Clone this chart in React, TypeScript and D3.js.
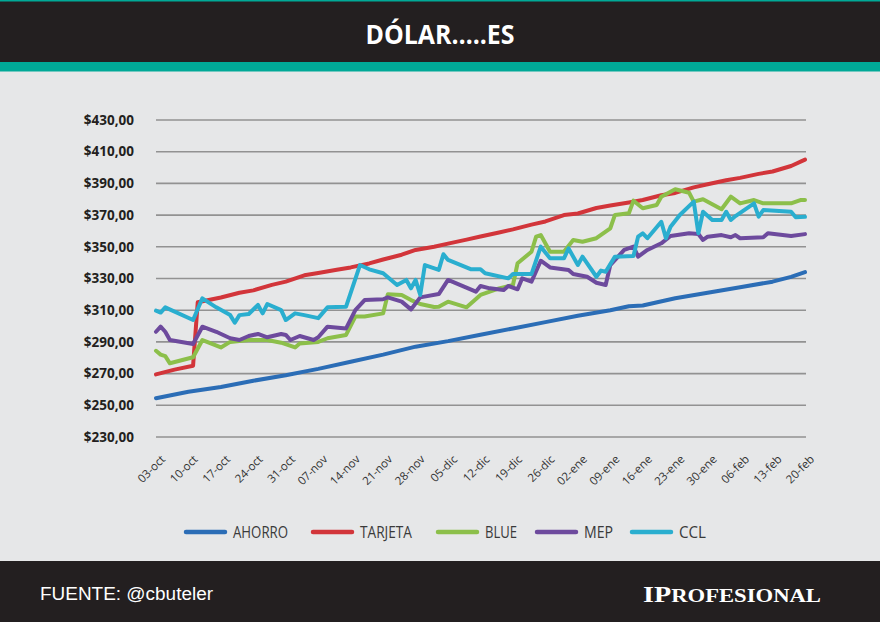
import React from 'react';
import * as d3 from 'd3';

// datos (pesos por dolar)
const ahorro: [string, number][] = [
  ['2022-10-03', 254.5], ['2022-10-10', 258.5], ['2022-10-17', 261.5], ['2022-10-24', 265.5],
  ['2022-10-31', 269], ['2022-11-07', 273], ['2022-11-14', 277.5], ['2022-11-21', 282],
  ['2022-11-28', 287], ['2022-12-05', 290.5], ['2022-12-12', 294.5], ['2022-12-19', 298.5],
  ['2022-12-26', 302.5], ['2023-01-02', 306.5], ['2023-01-09', 310], ['2023-01-13', 312.5],
  ['2023-01-16', 313], ['2023-01-23', 317.5], ['2023-01-30', 321], ['2023-02-06', 324.5],
  ['2023-02-13', 328], ['2023-02-17', 331], ['2023-02-20', 334],
];

const tarjeta: [string, number][] = [
  ['2022-10-03', 269.5], ['2022-10-07', 272.5], ['2022-10-11', 275], ['2022-10-12', 315],
  ['2022-10-17', 318], ['2022-10-21', 321], ['2022-10-24', 322.5], ['2022-10-28', 326],
  ['2022-10-31', 328], ['2022-11-04', 332], ['2022-11-07', 333.5], ['2022-11-11', 335.5],
  ['2022-11-14', 337], ['2022-11-18', 339.5], ['2022-11-21', 342], ['2022-11-25', 345],
  ['2022-11-28', 348], ['2022-12-02', 350], ['2022-12-05', 352], ['2022-12-09', 354.5],
  ['2022-12-12', 356.5], ['2022-12-16', 359], ['2022-12-19', 361], ['2022-12-23', 364],
  ['2022-12-26', 366], ['2022-12-30', 370], ['2023-01-02', 371], ['2023-01-06', 374.5],
  ['2023-01-09', 376], ['2023-01-13', 378], ['2023-01-16', 379.5], ['2023-01-20', 382.5],
  ['2023-01-23', 384], ['2023-01-27', 387.5], ['2023-01-30', 389.5], ['2023-02-03', 392],
  ['2023-02-06', 393.5], ['2023-02-10', 396], ['2023-02-13', 397.5], ['2023-02-17', 401],
  ['2023-02-20', 405],
];

const blue: [string, number][] = [
  ['2022-10-03', 284.4], ['2022-10-04', 282], ['2022-10-05', 281], ['2022-10-06', 276.5],
  ['2022-10-11', 280.3], ['2022-10-13', 291.2], ['2022-10-14', 290], ['2022-10-17', 286.5],
  ['2022-10-19', 290], ['2022-10-23', 291.2], ['2022-10-27', 291.2], ['2022-10-30', 289.5],
  ['2022-11-02', 286.5], ['2022-11-03', 289], ['2022-11-07', 290], ['2022-11-09', 292.3],
  ['2022-11-13', 294.4], ['2022-11-15', 306], ['2022-11-17', 306], ['2022-11-21', 308],
  ['2022-11-22', 320], ['2022-11-25', 319.6], ['2022-11-27', 316.4], ['2022-11-29', 313.9],
  ['2022-12-02', 312], ['2022-12-03', 312.2], ['2022-12-05', 315.4], ['2022-12-09', 311.8],
  ['2022-12-12', 319.6], ['2022-12-16', 323.8], ['2022-12-19', 325.9], ['2022-12-20', 339.6],
  ['2022-12-23', 346.9], ['2022-12-24', 356.4], ['2022-12-25', 357.4], ['2022-12-27', 346.9],
  ['2022-12-30', 346.9], ['2023-01-01', 354.3], ['2023-01-03', 353.2], ['2023-01-06', 355.4],
  ['2023-01-09', 361.7], ['2023-01-10', 370.1], ['2023-01-13', 371.1], ['2023-01-14', 379.1],
  ['2023-01-16', 374.3], ['2023-01-19', 376.4], ['2023-01-20', 381.6], ['2023-01-23', 386.3],
  ['2023-01-26', 384.1], ['2023-01-27', 378.5], ['2023-01-29', 380], ['2023-02-02', 373.7],
  ['2023-02-04', 381.6], ['2023-02-06', 377.4], ['2023-02-09', 379.5], ['2023-02-11', 377.4],
  ['2023-02-17', 377.4], ['2023-02-19', 379.5], ['2023-02-20', 379.5],
];

const mep: [string, number][] = [
  ['2022-10-03', 296.4], ['2022-10-04', 299.6], ['2022-10-05', 296.4], ['2022-10-06', 291.2],
  ['2022-10-11', 288.7], ['2022-10-13', 299.6], ['2022-10-16', 296.4], ['2022-10-19', 292.3],
  ['2022-10-21', 291.2], ['2022-10-23', 293.7], ['2022-10-25', 295], ['2022-10-27', 292.9],
  ['2022-10-30', 295], ['2022-10-31', 294.4], ['2022-11-01', 291.2], ['2022-11-03', 293.7],
  ['2022-11-06', 291.2], ['2022-11-07', 292.9], ['2022-11-09', 299.6], ['2022-11-13', 298.5],
  ['2022-11-15', 310], ['2022-11-17', 316.4], ['2022-11-21', 316.9], ['2022-11-22', 318.1],
  ['2022-11-25', 315.4], ['2022-11-27', 310.5], ['2022-11-29', 318.1], ['2022-12-03', 320.2],
  ['2022-12-05', 329.1], ['2022-12-11', 321.7], ['2022-12-12', 325.3], ['2022-12-14', 323.8],
  ['2022-12-17', 322.7], ['2022-12-18', 325.3], ['2022-12-20', 323.2], ['2022-12-21', 330.1],
  ['2022-12-23', 328], ['2022-12-25', 341.2], ['2022-12-27', 337], ['2022-12-31', 335.4],
  ['2023-01-01', 332.8], ['2023-01-04', 331.1], ['2023-01-06', 327.3], ['2023-01-08', 325.9],
  ['2023-01-09', 338.5], ['2023-01-12', 348], ['2023-01-14', 350.1], ['2023-01-15', 343.8],
  ['2023-01-17', 348], ['2023-01-20', 352.2], ['2023-01-22', 356.8], ['2023-01-26', 358.5],
  ['2023-01-28', 358.1], ['2023-01-29', 354.3], ['2023-01-30', 356.4], ['2023-02-02', 357.4],
  ['2023-02-04', 356], ['2023-02-05', 357.4], ['2023-02-06', 355.4], ['2023-02-11', 356],
  ['2023-02-12', 358.5], ['2023-02-17', 356.8], ['2023-02-20', 358],
];

const ccl: [string, number][] = [
  ['2022-10-03', 309.7], ['2022-10-04', 308.5], ['2022-10-05', 311.8], ['2022-10-11', 303.8],
  ['2022-10-13', 317.5], ['2022-10-16', 311.8], ['2022-10-19', 306.9], ['2022-10-20', 302.1],
  ['2022-10-21', 306.9], ['2022-10-23', 307.6], ['2022-10-25', 313.3], ['2022-10-26', 308],
  ['2022-10-27', 313.9], ['2022-10-30', 310], ['2022-10-31', 303.8], ['2022-11-02', 308],
  ['2022-11-04', 306.9], ['2022-11-07', 305], ['2022-11-09', 311.8], ['2022-11-13', 312.2],
  ['2022-11-16', 338.5], ['2022-11-18', 335.8], ['2022-11-21', 333.3], ['2022-11-24', 325.9],
  ['2022-11-26', 329.1], ['2022-11-27', 323.8], ['2022-11-28', 329.1], ['2022-11-29', 319.6],
  ['2022-11-30', 338.5], ['2022-12-03', 335.4], ['2022-12-04', 345.3], ['2022-12-05', 341.7],
  ['2022-12-10', 335.8], ['2022-12-12', 335.8], ['2022-12-13', 333.3], ['2022-12-18', 330.1],
  ['2022-12-19', 332.8], ['2022-12-23', 332.8], ['2022-12-25', 350.1], ['2022-12-27', 342.7],
  ['2022-12-30', 342.7], ['2022-12-31', 349], ['2023-01-02', 338.5], ['2023-01-03', 343.8],
  ['2023-01-06', 331.1], ['2023-01-07', 335], ['2023-01-08', 334.3], ['2023-01-10', 343.8],
  ['2023-01-14', 344.2], ['2023-01-15', 356.4], ['2023-01-16', 358.5], ['2023-01-17', 355.4],
  ['2023-01-20', 365.8], ['2023-01-21', 355.4], ['2023-01-22', 362.7], ['2023-01-24', 370.1],
  ['2023-01-27', 378.5], ['2023-01-28', 358.5], ['2023-01-29', 372.1], ['2023-01-31', 366.9],
  ['2023-02-02', 366.9], ['2023-02-03', 372.1], ['2023-02-04', 366.9], ['2023-02-05', 369.4],
  ['2023-02-09', 377.4], ['2023-02-10', 369], ['2023-02-11', 373.2], ['2023-02-17', 372.1],
  ['2023-02-18', 368.6], ['2023-02-20', 368.9],
];

const xLabels = ['03-oct', '10-oct', '17-oct', '24-oct', '31-oct', '07-nov', '14-nov', '21-nov',
  '28-nov', '05-dic', '12-dic', '19-dic', '26-dic', '02-ene', '09-ene', '16-ene', '23-ene',
  '30-ene', '06-feb', '13-feb', '20-feb'];
const yTicks = [230, 250, 270, 290, 310, 330, 350, 370, 390, 410, 430];

const seriesNames = ['AHORRO', 'TARJETA', 'BLUE', 'MEP', 'CCL'];
const seriesColors = ['#2b6db6', '#d2353a', '#8cbf4a', '#6d4a9d', '#2aaecf'];
const seriesData = [ahorro, tarjeta, blue, mep, ccl];

const W = 880;
const H = 622;
const parse = d3.timeParse('%Y-%m-%d');

export default function App() {
  const start = parse('2022-10-03')!;
  const end = parse('2023-02-20')!;
  const x = d3.scaleTime().domain([start, end]).range([156, 805]);
  const y = d3.scaleLinear().domain([230, 430]).range([437, 120]);

  const line = d3.line<[string, number]>()
    .x(d => x(parse(d[0])!))
    .y(d => y(d[1]));

  // leyenda: posicion x de cada linea
  const legendX = [186, 313, 438, 537, 632];
  const legendTextW = [55, 52, 32, 29, 27];

  return (
    <svg width={W} height={H} style={{position: 'absolute', left: 0, top: 0}}>
      <rect x={0} y={0} width={W} height={H} fill="#e6e7e8"/>
      {/* cabecera */}
      <rect x={0} y={0} width={W} height={62} fill="#231f20"/>
      <rect x={0} y={0} width={W} height={1.5} fill="#00a997"/>
      <rect x={0} y={62} width={W} height={9.5} fill="#00a997"/>
      <text x={440} y={43.5} textAnchor="middle" fill="#fff" fontFamily="'Open Sans', sans-serif"
            fontWeight={700} fontSize={26} textLength={149} lengthAdjust="spacingAndGlyphs">
        DÓLAR…..ES
      </text>

      {/* grilla y eje y */}
      {yTicks.map(v => (
        <g key={v}>
          <line x1={156} x2={806} y1={y(v)} y2={y(v)} stroke="#929292" strokeWidth={1.6}/>
          <text x={134} y={y(v)} dy="0.35em" textAnchor="end" fill="#231f20"
                fontFamily="'Open Sans', sans-serif" fontWeight={700} fontSize={13.5}>
            {`$${v},00`}
          </text>
        </g>
      ))}

      {/* eje x */}
      {xLabels.map((lab, i) => {
        const px = x(d3.timeDay.offset(start, i * 7));
        return (
          <text key={lab} transform={`translate(${px + 10},460) rotate(-45)`} textAnchor="end"
                fill="#333" fontFamily="'Open Sans', sans-serif" fontSize={11.5}>
            {lab}
          </text>
        );
      })}

      {/* series */}
      {seriesData.map((s, i) => (
        <path key={seriesNames[i]} d={line(s)!} fill="none" stroke={seriesColors[i]}
              strokeWidth={4} strokeLinejoin="round" strokeLinecap="round"/>
      ))}

      {/* leyenda */}
      {seriesNames.map((name, i) => (
        <g key={name}>
          <line x1={legendX[i]} x2={legendX[i] + 39} y1={532} y2={532} stroke={seriesColors[i]}
                strokeWidth={4.5} strokeLinecap="round"/>
          <text x={legendX[i] + 47} y={532} dy="0.36em" fill="#3a3a3a"
                fontFamily="'Open Sans', sans-serif" fontSize={16.5}
                textLength={legendTextW[i]} lengthAdjust="spacingAndGlyphs">
            {name}
          </text>
        </g>
      ))}

      {/* pie */}
      <rect x={0} y={561} width={W} height={H - 561} fill="#231f20"/>
      <text x={40} y={600} fill="#fff" fontFamily="'Liberation Sans', Arial, sans-serif" fontSize={18}
            textLength={173} lengthAdjust="spacingAndGlyphs">
        FUENTE: @cbuteler
      </text>
      <text x={643} y={602} fill="#fff" fontFamily="'Liberation Serif', 'DejaVu Serif', serif"
            fontWeight={700} textLength={178} lengthAdjust="spacingAndGlyphs">
        <tspan fontSize={23}>IP</tspan>
        <tspan fontSize={18.5}>ROFESIONAL</tspan>
      </text>
    </svg>
  );
}
